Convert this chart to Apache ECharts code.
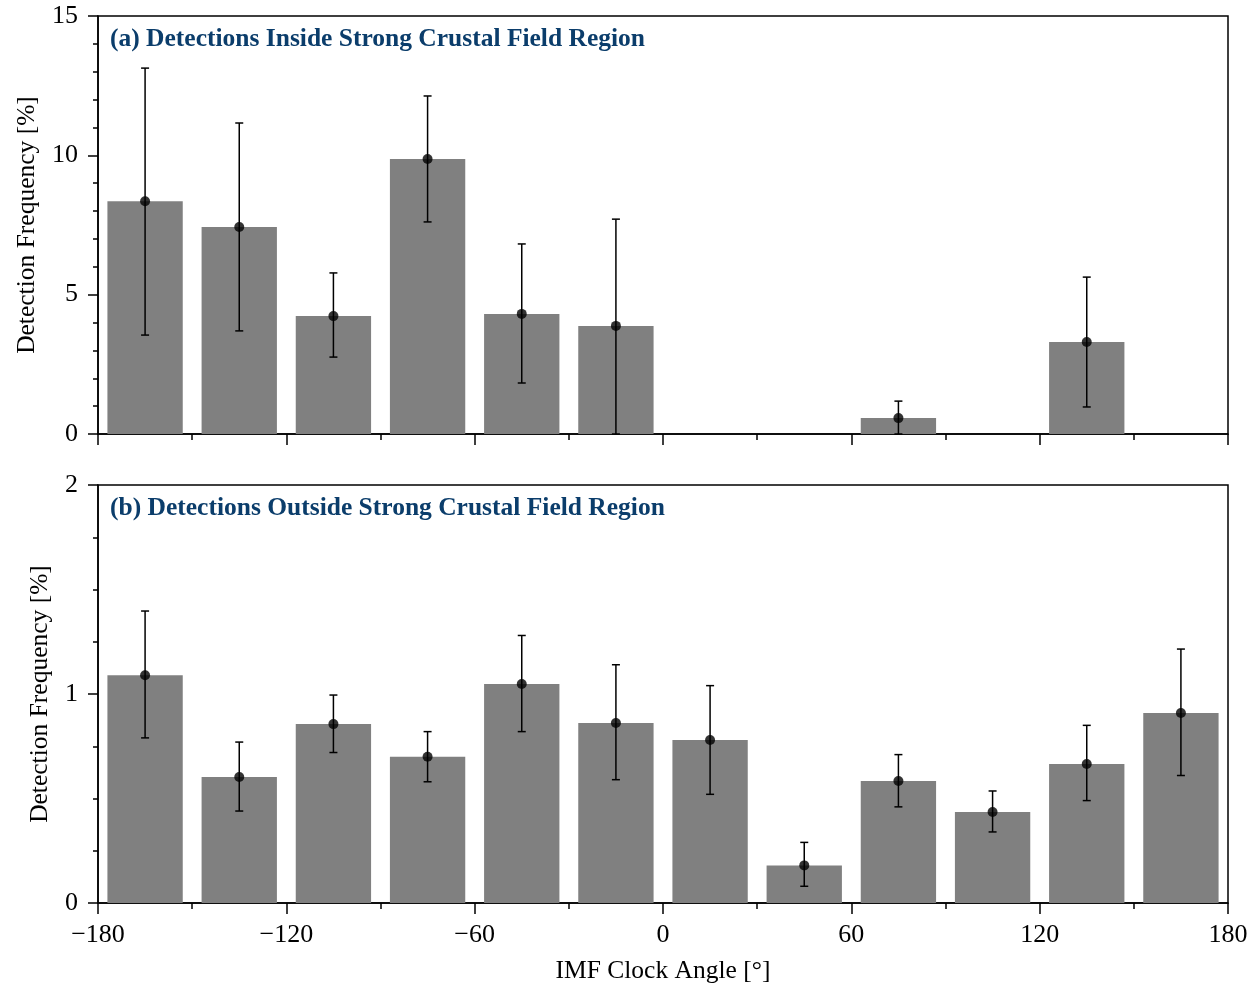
<!DOCTYPE html>
<html>
<head>
<meta charset="utf-8">
<script src="https://cdn.jsdelivr.net/npm/echarts@6/dist/echarts.min.js"></script>
<style>
  html, body { margin: 0; padding: 0; background: #fff; }
  #chart { width: 1251px; height: 986px; }
</style>
</head>
<body>
<div id="chart"></div>
<script>
// IMF clock-angle bins (centres, degrees), 30° wide
const binCenters = [-165, -135, -105, -75, -45, -15, 15, 45, 75, 105, 135, 165];
const binWidth = 30;

// (a) inside strong crustal field region: frequency [%] and error bounds
const insideFreq  = [8.35, 7.43, 4.23, 9.87, 4.31, 3.88, 0, 0, 0.57, 0, 3.30, 0];
const insideLow   = [3.55, 3.70, 2.76, 7.61, 1.83, 0.00, null, null, 0.00, null, 0.97, null];
const insideHigh  = [13.13, 11.16, 5.78, 12.13, 6.82, 7.71, null, null, 1.18, null, 5.63, null];

// (b) outside strong crustal field region
const outsideFreq = [1.09, 0.603, 0.856, 0.70, 1.048, 0.861, 0.78, 0.18, 0.584, 0.435, 0.665, 0.909];
const outsideLow  = [0.79, 0.44, 0.72, 0.58, 0.82, 0.59, 0.52, 0.08, 0.46, 0.34, 0.49, 0.61];
const outsideHigh = [1.397, 0.77, 0.995, 0.82, 1.28, 1.14, 1.04, 0.29, 0.71, 0.536, 0.85, 1.215];

const xTicks = [-180, -120, -60, 0, 60, 120, 180];
const panelTitles = [
  '(a) Detections Inside Strong Crustal Field Region',
  '(b) Detections Outside Strong Crustal Field Region'
];
const yLabel = 'Detection Frequency [%]';
const xLabel = 'IMF Clock Angle [°]';

const FONT = '"Liberation Serif", "DejaVu Serif", "Times New Roman", serif';
const TICK_SIZE = 26;
const NAME_SIZE = 25.5;
const BAR_FRACTION = 0.8;

const chart = echarts.init(document.getElementById('chart'), null, { renderer: 'canvas' });

function minusSign(v) { return String(v).replace('-', '\u2212'); }

function barData(freq) {
  return binCenters.map((c, i) => [c, freq[i]]);
}
function errData(freq, lo, hi) {
  return binCenters.map((c, i) => [c, lo[i], hi[i], freq[i]]).filter(d => d[1] !== null && d[3] > 0);
}
function dotData(freq, lo) {
  return binCenters.map((c, i) => [c, freq[i], lo[i]]).filter(d => d[2] !== null && d[1] > 0).map(d => [d[0], d[1]]);
}

function renderBar(params, api) {
  const x = api.value(0), v = api.value(1);
  if (!(v > 0)) return null;
  const half = binWidth * BAR_FRACTION / 2;
  const p0 = api.coord([x - half, v]);
  const p1 = api.coord([x + half, 0]);
  return {
    type: 'rect',
    shape: { x: p0[0], y: p0[1], width: p1[0] - p0[0], height: p1[1] - p0[1] },
    style: { fill: '#808080' }
  };
}

function renderErr(params, api) {
  const x = api.value(0);
  const lo = api.coord([x, api.value(1)]);
  const hi = api.coord([x, api.value(2)]);
  const cap = 4;
  const st = { stroke: '#000', lineWidth: 1.5 };
  return {
    type: 'group',
    children: [
      { type: 'line', shape: { x1: lo[0], y1: lo[1], x2: hi[0], y2: hi[1] }, style: st },
      { type: 'line', shape: { x1: hi[0] - cap, y1: hi[1], x2: hi[0] + cap, y2: hi[1] }, style: st },
      { type: 'line', shape: { x1: lo[0] - cap, y1: lo[1], x2: lo[0] + cap, y2: lo[1] }, style: st }
    ]
  };
}

const grids = [
  { left: 98, right: 23, top: 16, height: 418 },
  { left: 98, right: 23, top: 485, height: 418 }
];

function xAxis(gridIndex, showLabels) {
  return {
    type: 'value', gridIndex, min: -180, max: 180, interval: 60,
    axisLine: { show: true, onZero: false, lineStyle: { color: '#000', width: 1.5 } },
    axisTick: { show: true, inside: false, length: 11, lineStyle: { color: '#000', width: 1.5 } },
    minorTick: { show: true, splitNumber: 2, length: 6, lineStyle: { color: '#000', width: 1.5 } },
    splitLine: { show: false },
    axisLabel: {
      show: showLabels, margin: 19, color: '#000', fontFamily: FONT, fontSize: TICK_SIZE,
      formatter: v => xTicks.includes(v) ? minusSign(v) : ''
    },
    name: showLabels ? xLabel : '',
    nameLocation: 'middle', nameGap: 55,
    nameTextStyle: { color: '#000', fontFamily: FONT, fontSize: NAME_SIZE }
  };
}

function yAxis(gridIndex, max, interval, minorSplit, nameGap) {
  return {
    type: 'value', gridIndex, min: 0, max, interval,
    axisLine: { show: true, onZero: false, lineStyle: { color: '#000', width: 1.5 } },
    axisTick: { show: true, inside: false, length: 10, lineStyle: { color: '#000', width: 1.5 } },
    minorTick: { show: true, splitNumber: minorSplit, length: 5, lineStyle: { color: '#000', width: 1.5 } },
    splitLine: { show: false },
    axisLabel: { margin: 20, color: '#000', fontFamily: FONT, fontSize: TICK_SIZE },
    name: yLabel, nameLocation: 'middle', nameGap,
    nameTextStyle: { color: '#000', fontFamily: FONT, fontSize: NAME_SIZE }
  };
}

const panels = [
  { freq: insideFreq, lo: insideLow, hi: insideHigh },
  { freq: outsideFreq, lo: outsideLow, hi: outsideHigh }
];

const series = [];
panels.forEach((p, k) => {
  series.push({
    type: 'custom', xAxisIndex: k, yAxisIndex: k, renderItem: renderBar,
    data: barData(p.freq), encode: { x: 0, y: 1 }, z: 2, silent: true
  });
  series.push({
    type: 'custom', xAxisIndex: k, yAxisIndex: k, renderItem: renderErr,
    data: errData(p.freq, p.lo, p.hi), encode: { x: 0, y: [1, 2] }, z: 3, silent: true
  });
  series.push({
    type: 'scatter', xAxisIndex: k, yAxisIndex: k, symbol: 'circle', symbolSize: 10,
    itemStyle: { color: '#000' }, data: dotData(p.freq, p.lo), z: 4, silent: true
  });
});

chart.setOption({
  animation: false,
  backgroundColor: '#fff',
  title: panelTitles.map((t, k) => ({
    text: t, left: 110, top: k === 0 ? 26 : 495, padding: 0,
    textStyle: { color: '#0b3d6b', fontFamily: FONT, fontSize: NAME_SIZE, fontWeight: 'bold' }
  })),
  grid: grids.map(g => Object.assign({ show: true, borderColor: '#000', borderWidth: 1.5, backgroundColor: 'transparent' }, g)),
  xAxis: [xAxis(0, false), xAxis(1, true)],
  yAxis: [yAxis(0, 15, 5, 5, 58), yAxis(1, 2, 1, 4, 45)],
  series
});
</script>
</body>
</html>
